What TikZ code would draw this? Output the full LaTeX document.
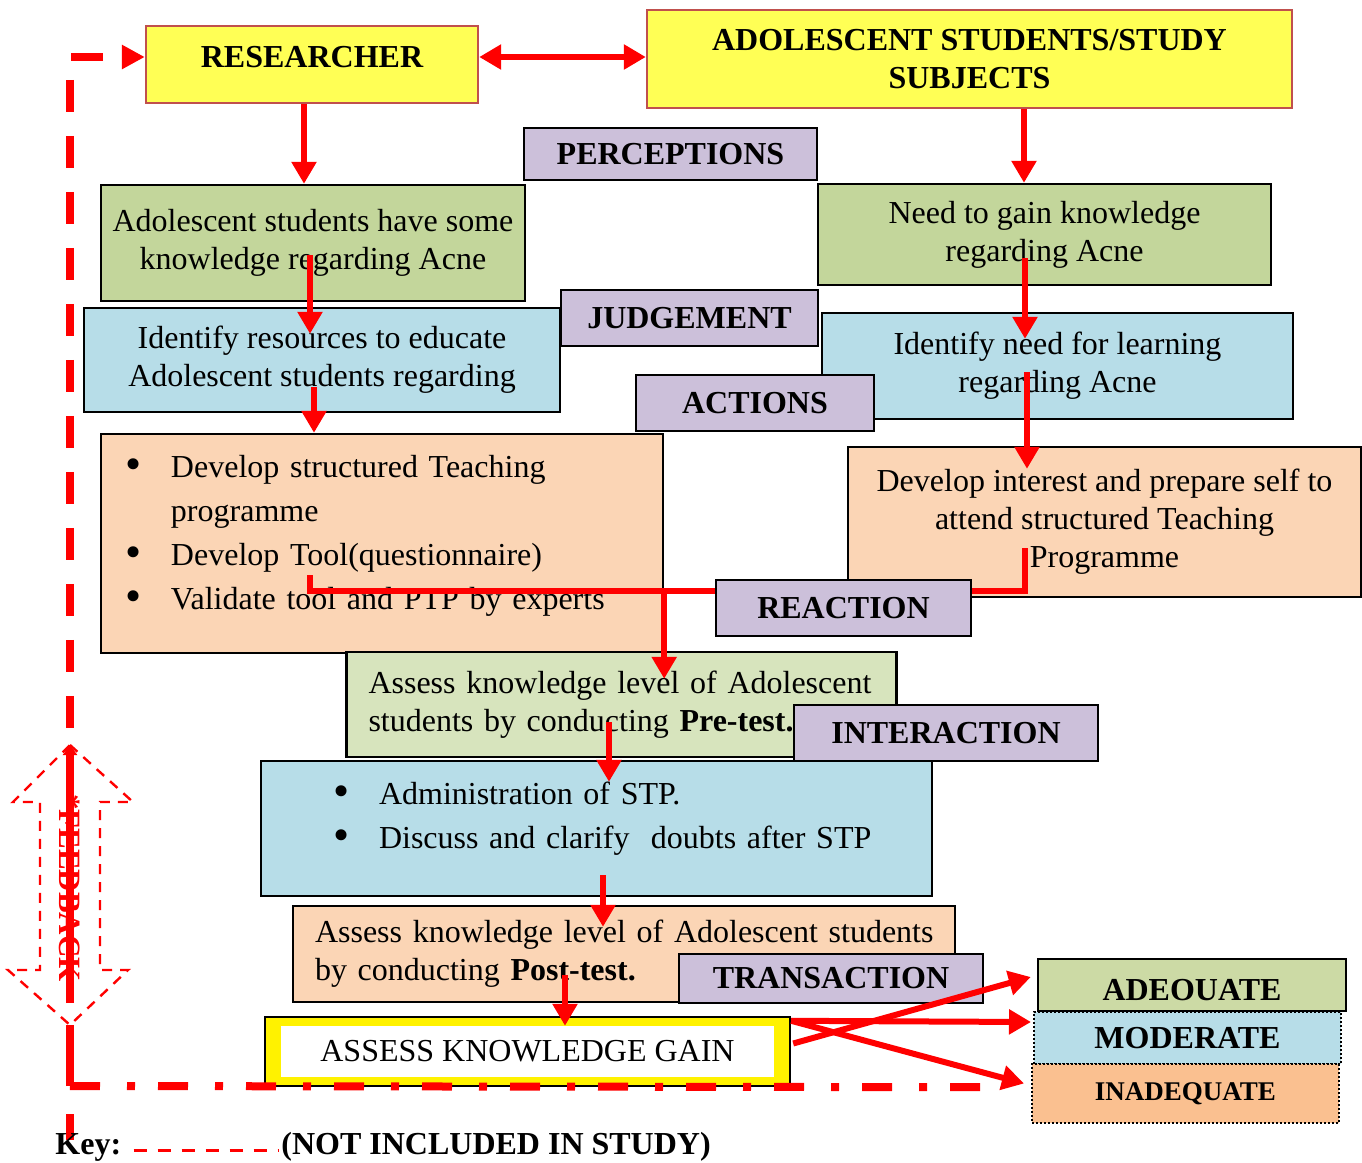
\documentclass[tikz,border=0pt]{standalone}
\usepackage{fontspec}
\setmainfont{Liberation Serif}
\usetikzlibrary{arrows.meta,calc}
\definecolor{headyellow}{HTML}{FFFF55}
\definecolor{headedge}{HTML}{C0504D}
\definecolor{tagpurple}{HTML}{CCC0DA}
\definecolor{leafgreen}{HTML}{C3D69B}
\definecolor{adeqgreen}{HTML}{CCDAA5}
\definecolor{palegreen}{HTML}{D7E4BD}
\definecolor{skyblue}{HTML}{B7DDE8}
\definecolor{peach}{HTML}{FBD5B5}
\definecolor{apricot}{HTML}{FAC090}
\definecolor{flowred}{HTML}{FF0000}
\newcommand\listdot{\raisebox{-1.2pt}{\fontsize{23}{22}\selectfont\textbullet}}
\tikzset{
  box/.style={ draw=black, line width=1.2pt, inner sep=0pt, align=center, font=\fontsize{16}{19}\selectfont },
  headbox/.style={ box, fill=headyellow, draw=headedge, font=\fontsize{16}{19}\selectfont\bfseries },
  tagbox/.style={ box, fill=tagpurple, font=\fontsize{16}{19}\selectfont\bfseries },
  listbox/.style={ box, align=left, font=\fontsize{16}{22}\selectfont },
  flow/.style={ draw=flowred, line width=3pt, -{Triangle[length=11pt,width=12pt]} },
  link/.style={ draw=flowred, line width=3pt },
  loopline/.style={ draw=flowred, line width=4pt },
  fbshape/.style={ draw=flowred, line width=1.2pt, dash pattern=on 5pt off 4pt },
  keytext/.style={ inner sep=0pt, font=\fontsize{16}{19}\selectfont\bfseries },
  keyline/.style={ draw=flowred, line width=1.5pt, dash pattern=on 6.5pt off 5.5pt }
}
\begin{document}
\begin{tikzpicture}[ x=0.5pt, y=-0.5pt ]
  \fill [ white ] (0,0) rectangle (1362,1163);
  \useasboundingbox (0,0) rectangle (1362,1163);

  \node [ headbox, text depth=7.5pt, minimum width=166pt, minimum height=38.5pt ] (researcher) at (312,64.5) {RESEARCHER};
  \node [ headbox, minimum width=322.5pt, minimum height=49pt ] (subjects) at (969.5,59) {ADOLESCENT STUDENTS/STUDY\\SUBJECTS};
  \node [ box, fill=leafgreen, minimum width=212pt, minimum height=58pt ] (knowL) at (313,243) {Adolescent students have some\\knowledge regarding Acne};
  \node [ box, fill=leafgreen, minimum width=226.5pt, minimum height=50.5pt ] (needR) at (1044.5,234.5) {Need to gain knowledge\\regarding Acne};
  \node [ box, fill=skyblue, minimum width=238pt, minimum height=52pt ] (resL) at (322,360) {Identify resources to educate\\Adolescent students regarding};
  \node [ box, fill=skyblue, minimum width=235.5pt, minimum height=53pt ] (needLearn) at (1057.5,366) {Identify need for learning\\regarding Acne};
  \node [ listbox, fill=peach, text width=257pt, inner xsep=12pt, minimum height=109.5pt ] (devL) at (382,543.5)
    {\begin{tabular}{@{}p{23pt}@{}l@{}}
      \listdot & Develop structured Teaching\\
               & programme\\
      \listdot & Develop Tool(questionnaire)\\
      \listdot & Validate tool and PTP by experts\\[9pt]
    \end{tabular}};
  \node [ box, fill=peach, minimum width=256.5pt, minimum height=75pt ] (devR) at (1104.5,522) {Develop interest and prepare self to\\attend structured Teaching\\Programme};
  \node [ box, fill=palegreen, align=left, text width=253pt, inner xsep=11pt, minimum height=52.5pt ] (pretest) at (621.5,704.5)
    {\makebox[253pt][s]{Assess knowledge level of Adolescent}\\students by conducting \textbf{Pre-test.}};
  \node [ listbox, fill=skyblue, text width=263.5pt, inner xsep=36pt, minimum height=67.5pt ] (stp) at (596.5,828.5)
    {\begin{tabular}{@{}p{23pt}@{}l@{}}
      \listdot & Administration of STP.\\
      \listdot & Discuss and clarify\ \ doubts after STP\\[11pt]
    \end{tabular}};
  \node [ box, fill=peach, align=left, text width=309pt, inner xsep=11pt, minimum height=48pt ] (posttest) at (624,954)
    {\makebox[309pt][s]{Assess knowledge level of Adolescent students}\\by conducting \textbf{Post-test.}};
  \node [ box, fill=yellow, minimum width=262.5pt, minimum height=34.5pt ] (gain) at (527.5,1051.5) {};
  \node [ fill=white, inner sep=0pt, minimum width=246.5pt, minimum height=25.5pt, font=\fontsize{16}{19}\selectfont ] (gaintext) at (gain.center) {ASSESS KNOWLEDGE GAIN};

  \node [ tagbox, minimum width=146.5pt, minimum height=26pt ] (perceptions) at (670.5,154) {PERCEPTIONS};
  \node [ tagbox, minimum width=128.5pt, minimum height=28pt ] (judgement) at (689.5,318) {JUDGEMENT};
  \node [ tagbox, minimum width=119pt, minimum height=28pt ] (actions) at (755,403) {ACTIONS};
  \node [ tagbox, minimum width=127.5pt, minimum height=28pt ] (reaction) at (843.5,608) {REACTION};
  \node [ tagbox, minimum width=152pt, minimum height=28pt ] (interaction) at (946,733) {INTERACTION};
  \node [ tagbox, minimum width=152pt, minimum height=24.5pt ] (transaction) at (831,978.5) {TRANSACTION};

  \node [ box, fill=adeqgreen, text height=15.5pt, font=\fontsize{16}{19}\selectfont\bfseries, minimum width=154pt, minimum height=26pt ] (adequate) at (1192,985) {ADEOUATE};
  \node [ box, fill=skyblue, line width=1pt, densely dotted, font=\fontsize{16}{19}\selectfont\bfseries, minimum width=153.5pt, minimum height=26pt ] (moderate) at (1187.5,1038) {MODERATE};
  \node [ box, fill=apricot, line width=1pt, densely dotted, font=\fontsize{13.5}{16}\selectfont\bfseries, minimum width=153.5pt, minimum height=29.5pt ] (inadequate) at (1185.5,1093.5) {INADEQUATE};

  \draw [ flow ] ($(researcher.south)+(-8,0)$) -- ($(researcher.south |- knowL.north)+(-8,0)$);
  \draw [ flow, {Triangle[length=11pt,width=12pt]}-{Triangle[length=11pt,width=12pt]} ] ($(researcher.east)+(0,-7.5)$) -- ($(subjects.west)+(0,-2)$);
  \draw [ flow ] ($(subjects.south)+(54.5,0)$) -- ($(subjects.south |- needR.north)+(54.5,0)$);
  \draw [ flow ] ($(knowL.center)+(-3,12)$) -- ($(knowL.center |- resL.north)+(-3,27)$);
  \draw [ flow ] ($(resL.center)+(-8,27)$) -- ($(resL.center |- devL.north)+(-8,0)$);
  \draw [ flow ] ($(needR.center)+(-19.5,23.5)$) -- ($(needR.center |- needLearn.north)+(-19.5,27)$);
  \draw [ flow ] ($(needLearn.center)+(-30.5,6)$) -- ($(needLearn.center |- devR.north)+(-30.5,23)$);
  \coordinate (rxn) at ($(devL.east |- reaction.north)+(0,12)$);
  \draw [ link ] ($(devL.center)+(-72,31.5)$) |- (rxn) -- (reaction.west |- rxn);
  \draw [ link ] ($(devR.center)+(-80,26)$) |- (reaction.east |- rxn);
  \draw [ flow ] (rxn) -- ($(rxn |- pretest.north)+(0,28)$);
  \draw [ flow ] ($(pretest.center)+(-12.5,17.5)$) -- ($(pretest.center |- stp.north)+(-12.5,22)$);
  \draw [ flow ] ($(stp.center)+(6.5,46.5)$) -- ($(stp.center |- posttest.north)+(6.5,22)$);
  \draw [ flow ] ($(posttest.center)+(-59,21)$) -- ($(posttest.center |- gain.north)+(-59,10)$);
  \draw [ flow ] ($(gain.east)+(2,-8)$) -- ($(adequate.west)+(-6,-8)$);
  \draw [ flow ] ($(gain.north east)+(0,5)$) -- ($(moderate.west)+(-2,-16)$);
  \draw [ flow ] ($(gain.north east)+(0,5)$) -- ($(inadequate.west)+(-7,-10)$);

  \coordinate (fbtop) at (70,57);
  \coordinate (fbtip) at (70,745);
  \coordinate (fbbot) at (70,1086);
  \coordinate (fbend) at ($(inadequate.west |- gain.south)+(-47,0)$);
  \draw [ fbshape ] (fbtip) -- (133,802) -- (100,802) -- (100,970) -- (128,970) -- (70,1025) -- (8,970) -- (40,970) -- (40,802) -- (13,802) -- cycle;
  \draw [ loopline, -{Triangle[length=5pt,width=7pt]} ] (70,1003) -- (fbtip);
  \node [ keytext, text=flowred, font=\fontsize{15.5}{18}\selectfont\bfseries, rotate=-90 ] (fbtext) at (70,888) {*FEEDBACK};
  \draw [ loopline ] (fbbot) -- (70,1025);
  \draw [ loopline, dash pattern=on 15pt off 13.5pt on 4pt off 11.5pt ] (fbbot) -- (fbend);
  \draw [ loopline, dash pattern=on 16pt off 12pt, dash phase=18pt, {Triangle[length=11.5pt,width=11.5pt]}- ] ($(researcher.west)+(0,-7.5)$) -- (fbtop) -- (fbtip);
  \draw [ loopline, dash pattern=on 0pt off 14pt on 13pt off 20pt ] (fbbot) -- ++(0,54);

  \node [ keytext, anchor=west ] (key) at (55,1147) {Key:};
  \node [ keytext, anchor=west ] (notein) at (281,1147) {(NOT INCLUDED IN STUDY)};
  \draw [ keyline ] ($(key.east)+(12,3)$) -- ($(notein.west)+(-2,3)$);
\end{tikzpicture}
\end{document}
